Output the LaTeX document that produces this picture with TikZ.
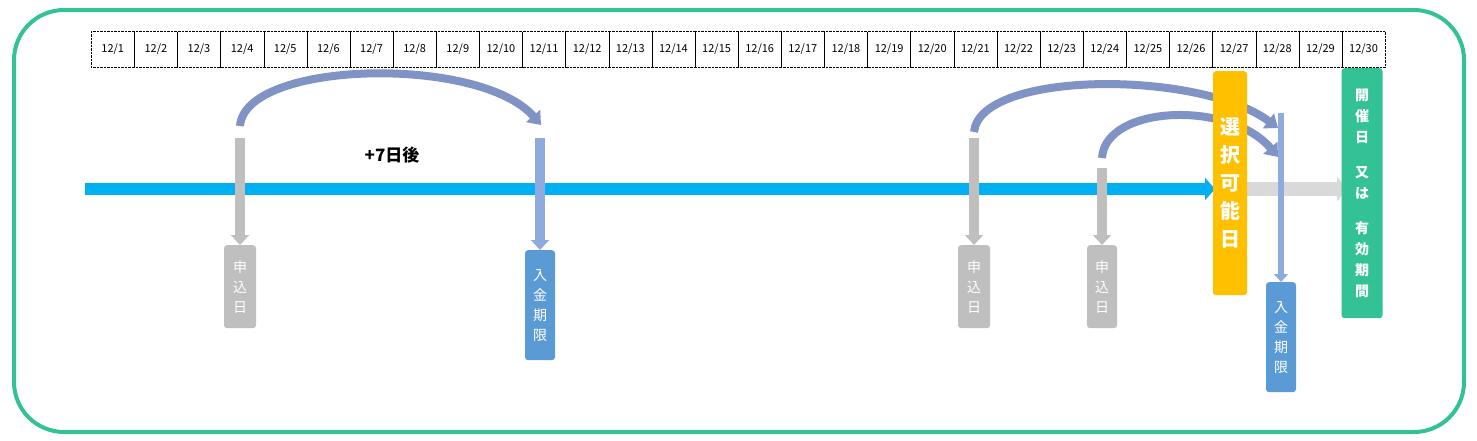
\documentclass[tikz,border=0pt]{standalone}
\usepackage{fontspec}
\setmainfont{Noto Sans CJK JP}
\usetikzlibrary{arrows.meta,positioning}
\definecolor{frame}{HTML}{33C295}
\definecolor{mainblue}{HTML}{00B0F0}
\definecolor{greybox}{HTML}{BFBFBF}
\definecolor{paleblue}{HTML}{8FAADC}
\definecolor{payblue}{HTML}{5B9BD5}
\definecolor{arcblue}{HTML}{7F94C4}
\definecolor{selyellow}{HTML}{FFC000}
\definecolor{lightgrey}{HTML}{D9D9D9}
\begin{document}
\begin{tikzpicture}[x=1pt, y=-1pt,
  cell/.style={draw, densely dotted, minimum width=43.13pt, minimum height=36pt, inner sep=0pt, font=\fontsize{11}{11}\selectfont, anchor=north west},
  tag/.style={rounded corners=3pt, text=white, align=center, inner sep=0pt, font=\fontsize{14}{20}\selectfont, anchor=north},
  down/.style={line width=10pt, -{Triangle[width=18pt,length=10pt]}},
  jump/.style={line width=8pt, arcblue, -{Triangle[width=18pt,length=12pt]}}]
	\useasboundingbox (0,0) rectangle (1477,440);
	\draw[frame, line width=4pt, rounded corners=50pt] (14,10) rectangle (1464,432);

	% calendar
	\foreach \d in {1,...,30}
		\node[cell] (c\d) at ({91+43.13*(\d-1)},31) {12/\d};

	% timeline
	\coordinate (t0) at (85,189);
	\coordinate (t1) at (1215,189);
	\coordinate (t2) at (1245,189);
	\coordinate (t3) at (1347,189);
	\draw[mainblue, line width=12pt, -{Triangle[width=22pt,length=10pt]}] (t0) -- (t1);
	\draw[lightgrey, line width=14pt, -{Triangle[width=24pt,length=10pt]}] (t2) -- (t3);

	% jumps
	\draw[jump] (240,126) .. controls (245,60) and (480,55) .. (541,125);
	\node[font=\bfseries\fontsize{17}{17}\selectfont] (plus) at (392,155) {+7日後};
	\draw[jump] (974,132) .. controls (980,70) and (1200,70) .. (1278,128);
	\draw[jump] (1102,158) .. controls (1105,105) and (1230,100) .. (1278,157);

	% boxes
	\node[tag, fill=greybox, minimum width=32pt, minimum height=83pt] (m1) at (240,245) {申\\込\\日};
	\node[tag, fill=payblue, minimum width=30pt, minimum height=110pt] (p1) at (540,250) {入\\金\\期\\限};
	\node[tag, fill=greybox, minimum width=32pt, minimum height=83pt] (m2) at (974,245) {申\\込\\日};
	\node[tag, fill=greybox, minimum width=30pt, minimum height=83pt] (m3) at (1102,245) {申\\込\\日};
	\node[tag, fill=payblue, minimum width=30pt, minimum height=110pt] (p2) at (1281,282) {入\\金\\期\\限};
	\node[tag, fill=selyellow, minimum width=34pt, minimum height=224pt, font=\bfseries\fontsize{20}{28}\selectfont] (sel) at (1230,71) {選\\択\\可\\能\\日};
	\node[tag, fill=frame, minimum width=41pt, minimum height=250pt, font=\bfseries\fontsize{14}{21}\selectfont] (ev) at (1362,68) {開\\催\\日\\[14pt]又\\は\\[14pt]有\\効\\期\\間};

	% down arrows
	\coordinate (a1) at (240,138);
	\coordinate (a2) at (540,138);
	\coordinate (a3) at (974,138);
	\coordinate (a4) at (1102,168);
	\coordinate (a5) at (1281,113);
	\draw[down, greybox] (a1) -- (m1.north);
	\draw[down, paleblue] (a2) -- (p1.north);
	\draw[down, greybox] (a3) -- (m2.north);
	\draw[down, greybox] (a4) -- (m3.north);
	\draw[paleblue, line width=6pt, -{Triangle[width=14pt,length=8pt]}] (a5) -- (p2.north);
\end{tikzpicture}
\end{document}
